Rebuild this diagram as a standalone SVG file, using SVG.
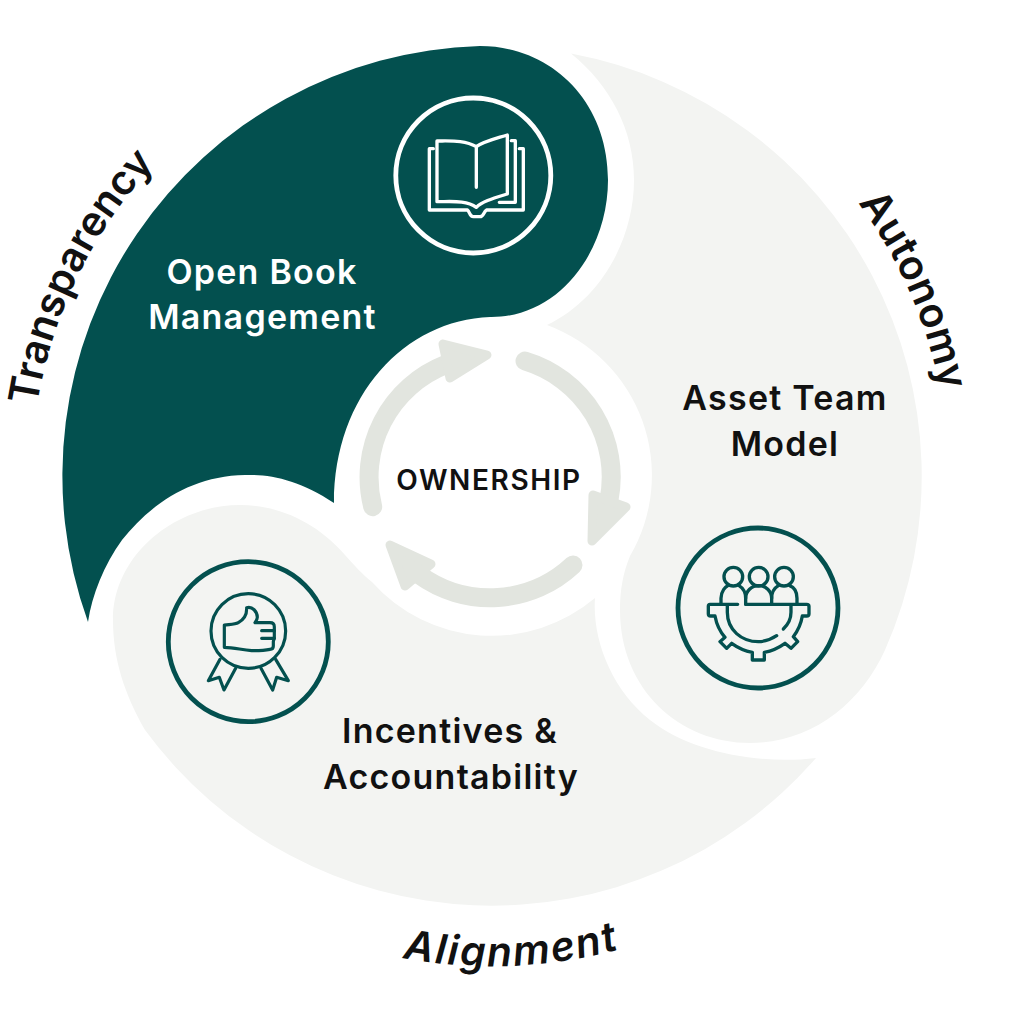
<svg xmlns="http://www.w3.org/2000/svg" width="1024" height="1018" viewBox="0 0 1024 1018">
<style>
.lbl{font-family:"Inter","Liberation Sans",sans-serif;font-weight:600;font-size:34px;letter-spacing:1.25px;fill:#111;text-anchor:middle}
.cv{font-family:"Inter","Liberation Sans",sans-serif;font-weight:600;font-size:41px;fill:#111}
.ic{fill:none;stroke-linecap:round;stroke-linejoin:round}
.arr{fill:none;stroke:#e2e5df;stroke-width:19;stroke-linecap:round}
.hd{fill:#e2e5df;stroke:#e2e5df;stroke-width:9;stroke-linejoin:round}
</style>
<defs>
<path id="pT" d="M37,406 A460,460 0 0 1 190,130"/>
<path id="pA" d="M858,203 A456,456 0 0 1 948,476"/>
<path id="pB" d="M397,957 A490,490 0 0 0 650,940"/>
</defs>
<rect width="1024" height="1018" fill="#fff"/>
<g id="node-open-book">
<path fill="#03504f" d="M88,622 A430,430 0 0 1 480,46 C550,46 608,100 608,180 C608,250 560,318 490,317 C405,320 334,395 334,503 C300,480 270,474 245,475 C190,476 150,505 122,540 C104,565 92,595 88,622 Z"/>
<g class="ic" stroke="#fff">
<circle cx="473.3" cy="175.5" r="77.5" stroke-width="4.8"/>
<g transform="translate(380,90) scale(.3333)" stroke-width="10">
<path d="M289,170 C255,150 215,153 171,153 L171,335 C215,335 260,330 289,352 C305,335 340,325 382,312 L382,135 C340,148 310,155 289,170 L289,292"/>
<path d="M160,176 H148 V360 H262 C270,365 268,380 280,380 H300 C312,380 310,365 320,360 H430 V176 H418"/>
<path d="M394,152 H406 V337 H358"/>
</g>
</g>
<text class="lbl" x="262" y="284" style="fill:#fff">Open Book</text>
<text class="lbl" x="262.500" y="329" style="fill:#fff">Management</text>
</g>
<g id="node-asset-team">
<path fill="#f3f4f2" d="M571,53.500 A430,430 0 0 1 885,650 C860,705 810,743 750,743 C680,743 620,690 620,610 C620,590 623,573 630,556 A160,160 0 0 0 547,325 C600,300 634,240 634,180 C634,130 610,85 571,53.500 Z"/>
<g class="ic" stroke="#03504f">
<circle cx="758" cy="608" r="80" stroke-width="4.8"/>
<g transform="translate(665,515) scale(.3333)" stroke-width="10">
<circle cx="205" cy="185" r="28"/><circle cx="281" cy="185" r="28"/><circle cx="357" cy="185" r="28"/>
<path d="M168,266 V250 C168,228 182,215 188,212"/>
<path d="M222,212 C232,218 242,232 242,250 V268"/>
<path d="M242,250 C242,228 260,212 281,212 C302,212 320,228 320,250 V268"/>
<path d="M320,250 C320,232 330,218 340,212"/>
<path d="M374,212 C390,218 396,232 396,250 V266"/>
<path d="M218,268 H135 Q130,268 130,274 V297 Q130,303 137,303 H150 C155,330 165,350 180,367 L165,380 L185,400 L200,385 C218,398 240,408 262,412 V435 H298 V412 C320,408 342,398 360,385 L378,400 L398,380 L385,365 C398,348 408,328 412,303 H425 Q432,303 432,297 V274 Q432,268 425,268 H242"/>
<path d="M187,270 V292 C187,345 230,380 280,380 C300,380 320,372 335,362"/>
<path d="M378,270 V292 C378,310 370,328 355,342"/>
</g>
</g>
<text class="lbl" x="785" y="410">Asset Team</text>
<text class="lbl" x="785" y="456">Model</text>
</g>
<g id="node-incentives">
<path fill="#f3f4f2" d="M816,758 A430,430 0 0 1 145,730 C125,695 113,660 113,620 C113,555 175,505 240,505 C285,505 322,528 345,555 C355,566 362,574 372,582 A160,160 0 0 0 595,598 C592,640 612,690 650,720 C690,752 760,765 816,758 Z"/>
<g class="ic" stroke="#03504f">
<circle cx="248.3" cy="641.7" r="80" stroke-width="4.8"/>
<g transform="translate(155,560) scale(.3333)" stroke-width="9.5">
<circle cx="280" cy="213" r="112"/>
<path d="M208,195 C225,193 240,194 250,188 C268,178 276,162 275,143 C292,138 307,155 307,172 C307,178 303,184 300,188 H345 Q358,188 358,200 V235 Q356,240 355,245 V258 Q355,268 345,268 C325,272 305,272 290,272 C260,270 240,263 208,262 Z"/>
<path d="M358,212 H320 M358,235 H320"/>
<path d="M195,298 L160,362 L193,352 L207,390 L242,325"/>
<path d="M318,325 L353,390 L365,352 L400,362 L362,298"/>
</g>
</g>
<text class="lbl" x="450" y="743">Incentives &amp;</text>
<text class="lbl" x="451" y="789">Accountability</text>
</g>
<g id="node-ownership">
<text x="489" y="490" font-family="Inter,'Liberation Sans',sans-serif" font-weight="600" font-size="28px" letter-spacing="1.6" fill="#111" text-anchor="middle">OWNERSHIP</text>
</g>
<g id="connectors">
<path class="arr" d="M372.7,506.7 A121,121 0 0 1 445.5,364.7"/>
<polygon class="hd" points="443,344 487,355 450,378"/>
<path class="arr" d="M525,361 A121,121 0 0 1 609,500"/>
<polygon class="hd" points="593,495 626,507 592,541"/>
<path class="arr" d="M573,565 A121,121 0 0 1 419,574.600"/>
<polygon class="hd" points="390,545 431,564 405,586"/>
</g>
<g id="curved-labels">
<text class="cv"><textPath href="#pT">Transparency</textPath></text>
<text class="cv" letter-spacing="0.3"><textPath href="#pA">Autonomy</textPath></text>
<text class="cv" letter-spacing="1.9" style="font-style:italic"><textPath href="#pB" startOffset="6">Alignment</textPath></text>
</g>
</svg>
